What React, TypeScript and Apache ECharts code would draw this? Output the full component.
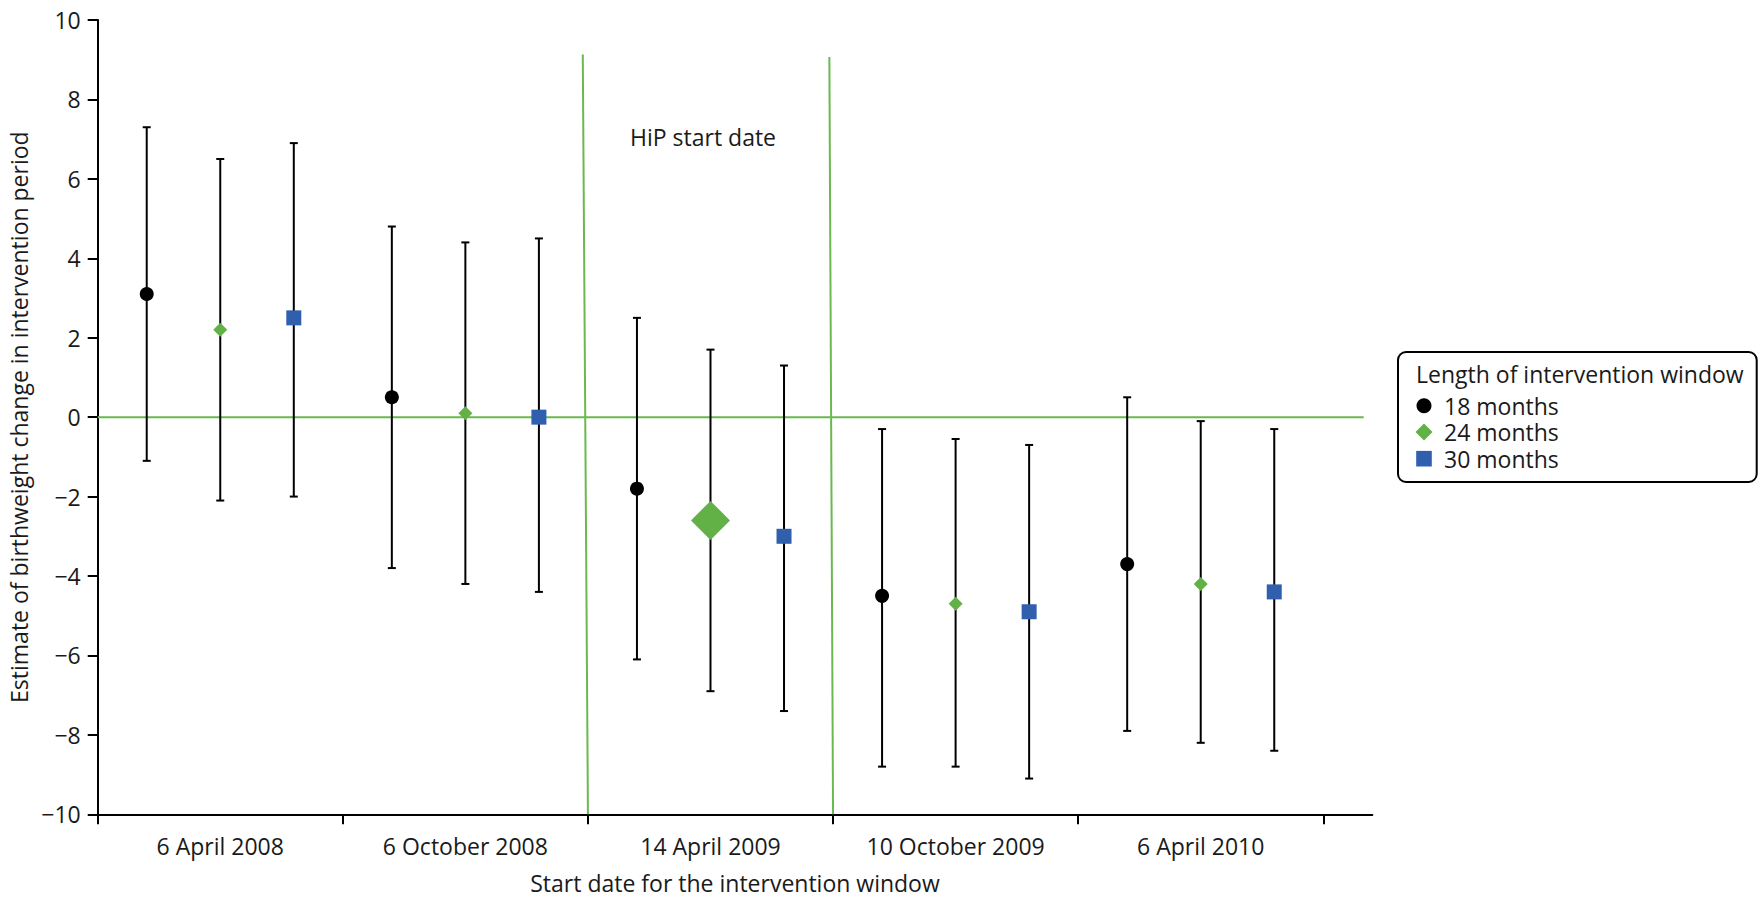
import React, { useEffect, useRef } from "react";
import * as echarts from "echarts";

// Start dates of the intervention window (one group per date)
const categories = [
  "6 April 2008",
  "6 October 2008",
  "14 April 2009",
  "10 October 2009",
  "6 April 2010",
];

// Estimates with lower / upper confidence limits, per window length
const est18 = [3.1, 0.5, -1.8, -4.5, -3.7];
const lo18 = [-1.1, -3.8, -6.1, -8.8, -7.9];
const hi18 = [7.3, 4.8, 2.5, -0.3, 0.5];

const est24 = [2.2, 0.1, -2.6, -4.7, -4.2];
const lo24 = [-2.1, -4.2, -6.9, -8.8, -8.2];
const hi24 = [6.5, 4.4, 1.7, -0.55, -0.1];

const est30 = [2.5, 0.0, -3.0, -4.9, -4.4];
const lo30 = [-2.0, -4.4, -7.4, -9.1, -8.4];
const hi30 = [6.9, 4.5, 1.3, -0.7, -0.3];

// The 24-month estimate at the HiP start date is drawn with a larger marker
const highlighted24 = 2;

const seriesNames = ["18 months", "24 months", "30 months"];
const offsets = [0.2, 0.5, 0.8];

// Axis ticks
const yTicks = { min: -10, max: 10, interval: 2 };
const xMax = 5.2;

// HiP start boundaries (slightly leaning lines): [xTop, yTop, xBottom, yBottom]
const hipLines = [
  [1.979, 9.13, 2, -10],
  [2.985, 9.07, 3, -10],
];
const zeroLineEnd = 5.165;

const FONT = "'Open Sans', 'Noto Sans', sans-serif";
const FS = 23;
const TEXT = "#1a1a1a";
const GREEN_LINE = "#6ab94e";
const GREEN = "#62b146";
const BLUE = "#2f5fad";

function points(est: number[], offset: number) {
  return est.map((v, i) => [i + offset, v]);
}
function bars(lo: number[], hi: number[], offset: number) {
  return lo.map((l, i) => [i + offset, l, hi[i]]);
}

function errorBarItem(params: any, api: any) {
  const x = api.value(0);
  const top = api.coord([x, api.value(2)]);
  const bot = api.coord([x, api.value(1)]);
  const cap = 4;
  const style = { stroke: "#000", lineWidth: 2 };
  return {
    type: "group",
    children: [
      { type: "line", shape: { x1: top[0], y1: top[1], x2: bot[0], y2: bot[1] }, style },
      { type: "line", shape: { x1: top[0] - cap, y1: top[1], x2: top[0] + cap, y2: top[1] }, style },
      { type: "line", shape: { x1: bot[0] - cap, y1: bot[1], x2: bot[0] + cap, y2: bot[1] }, style },
    ],
  };
}

export default function App() {
  const ref = useRef<HTMLDivElement>(null);

  useEffect(() => {
    if (!ref.current) return;
    const chart = echarts.init(ref.current, undefined, { renderer: "svg" });

    const groups = [
      { est: est18, lo: lo18, hi: hi18 },
      { est: est24, lo: lo24, hi: hi24 },
      { est: est30, lo: lo30, hi: hi30 },
    ];

    const errorSeries = groups.map((g, k) => ({
      type: "custom",
      name: seriesNames[k] + " CI",
      renderItem: errorBarItem,
      data: bars(g.lo, g.hi, offsets[k]),
      encode: { x: 0, y: [1, 2] },
      z: 3,
      silent: true,
    }));

    const markerSeries = [
      {
        type: "scatter",
        name: seriesNames[0],
        symbol: "circle",
        symbolSize: 14,
        itemStyle: { color: "#000", opacity: 1 },
        data: points(est18, offsets[0]),
        z: 5,
      },
      {
        type: "scatter",
        name: seriesNames[1],
        symbol: "diamond",
        symbolSize: (v: number[], p: any) => (p.dataIndex === highlighted24 ? 39 : 14),
        itemStyle: { color: GREEN, opacity: 1 },
        data: points(est24, offsets[1]),
        z: 5,
      },
      {
        type: "scatter",
        name: seriesNames[2],
        symbol: "rect",
        symbolSize: 15,
        itemStyle: { color: BLUE, opacity: 1 },
        data: points(est30, offsets[2]),
        z: 5,
      },
    ];

    const refLines = [
      {
        type: "line",
        data: [
          [0, 0],
          [zeroLineEnd, 0],
        ],
        symbol: "none",
        lineStyle: { color: GREEN_LINE, width: 2 },
        z: 2,
        silent: true,
      },
      ...hipLines.map((l) => ({
        type: "line",
        data: [
          [l[0], l[1]],
          [l[2], l[3]],
        ],
        symbol: "none",
        lineStyle: { color: GREEN_LINE, width: 2 },
        z: 2,
        silent: true,
      })),
    ];

    const legendX = 1398;
    const legendY = 352;
    const rowYs = [405.7, 432, 458.7];

    chart.setOption({
      animation: false,
      textStyle: { fontFamily: FONT },
      grid: {
        left: 97.7,
        right: 385.7,
        top: 20,
        bottom: 84.7,
        containLabel: false,
        outerBoundsMode: "none",
      },
      xAxis: {
        type: "value",
        min: 0,
        max: xMax,
        name: "Start date for the intervention window",
        nameLocation: "middle",
        nameGap: 57,
        nameTextStyle: { fontSize: FS, color: TEXT, fontFamily: FONT },
        axisLine: { onZero: false, lineStyle: { color: "#000", width: 2 } },
        axisTick: {
          show: true,
          length: 10,
          lineStyle: { color: "#000", width: 2 },
          customValues: [0, 1, 2, 3, 4, 5],
        },
        axisLabel: {
          customValues: categories.map((_, i) => i + 0.5),
          formatter: (v: number) => categories[Math.floor(v)] ?? "",
          fontSize: FS,
          color: TEXT,
          fontFamily: FONT,
          margin: 20,
        },
        splitLine: { show: false },
      },
      yAxis: {
        type: "value",
        min: yTicks.min,
        max: yTicks.max,
        interval: yTicks.interval,
        name: "Estimate of birthweight change in intervention period",
        nameLocation: "middle",
        nameGap: 57,
        nameTextStyle: { fontSize: FS, color: TEXT, fontFamily: FONT },
        axisLine: { show: true, onZero: false, lineStyle: { color: "#000", width: 2 } },
        axisTick: { show: true, length: 10, lineStyle: { color: "#000", width: 2 } },
        axisLabel: {
          fontSize: FS,
          color: TEXT,
          fontFamily: FONT,
          margin: 17,
          formatter: (v: number) => (v < 0 ? "\u2212" + Math.abs(v) : String(v)),
        },
        splitLine: { show: false },
      },
      series: [...refLines, ...errorSeries, ...markerSeries],
      graphic: [
        {
          type: "text",
          x: 703,
          y: 137,
          style: {
            text: "HiP start date",
            fontSize: FS,
            fontFamily: FONT,
            fill: TEXT,
            align: "center",
            verticalAlign: "middle",
          },
        },
        {
          type: "group",
          children: [
            {
              type: "rect",
              shape: { x: legendX, y: legendY, width: 358.7, height: 130, r: 8 },
              style: { fill: "#fff", stroke: "#000", lineWidth: 2 },
            },
            {
              type: "text",
              x: legendX + 18,
              y: 374,
              style: {
                text: "Length of intervention window",
                fontSize: FS,
                fontFamily: FONT,
                fill: TEXT,
                verticalAlign: "middle",
              },
            },
            {
              type: "circle",
              shape: { cx: legendX + 26, cy: rowYs[0], r: 7.5 },
              style: { fill: "#000" },
            },
            {
              type: "polygon",
              shape: {
                points: [
                  [legendX + 26, rowYs[1] - 8.5],
                  [legendX + 34.5, rowYs[1]],
                  [legendX + 26, rowYs[1] + 8.5],
                  [legendX + 17.5, rowYs[1]],
                ],
              },
              style: { fill: GREEN },
            },
            {
              type: "rect",
              shape: { x: legendX + 18.2, y: rowYs[2] - 7.8, width: 15.6, height: 15.6 },
              style: { fill: BLUE },
            },
            ...seriesNames.map((n, i) => ({
              type: "text",
              x: legendX + 46,
              y: rowYs[i],
              style: {
                text: n,
                fontSize: FS,
                fontFamily: FONT,
                fill: TEXT,
                verticalAlign: "middle",
              },
            })),
          ],
        },
      ],
    });

    return () => chart.dispose();
  }, []);

  // Pinned to the viewport's top-left corner so the chart fills the whole window
  return (
    <div
      ref={ref}
      style={{ position: "absolute", left: 0, top: 0, width: 1758, height: 899 }}
    />
  );
}
